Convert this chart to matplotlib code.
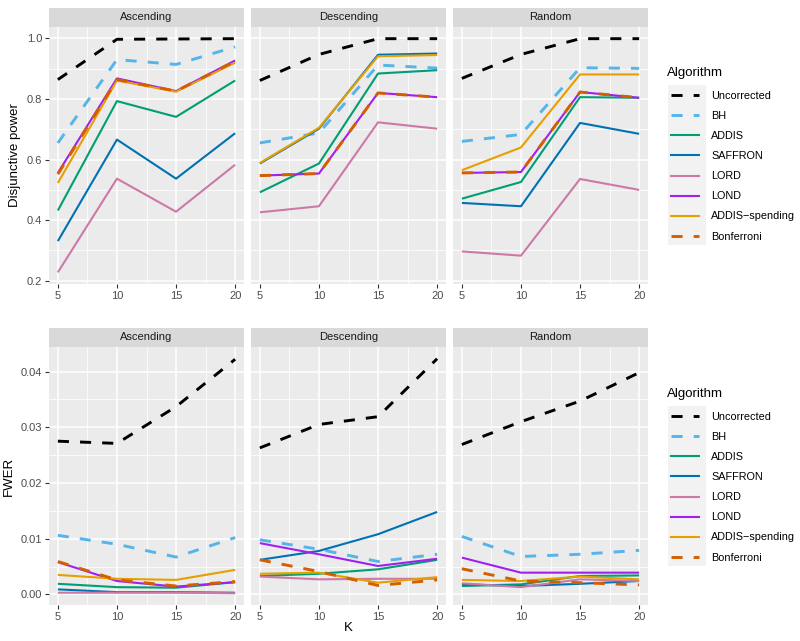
import matplotlib.pyplot as plt
from matplotlib.lines import Line2D
from matplotlib.patches import Rectangle
import numpy as np

plt.rcParams['font.family'] = ['Liberation Sans', 'DejaVu Sans']

# data
K = [5, 10, 15, 20]
orders = ['Ascending', 'Descending', 'Random']
algos = ['Uncorrected', 'BH', 'ADDIS', 'SAFFRON', 'LORD', 'LOND',
         'ADDIS\u2212spending', 'Bonferroni']
colors = ['black', '#56B4E9', '#009E73', '#0072B2', '#CC79A7', '#A020F0',
          '#E69F00', '#D55E00']
dashed = [True, True, False, False, False, False, False, True]

power_asc = [[0.864, 0.997, 0.998, 0.999],
             [0.655, 0.930, 0.914, 0.972],
             [0.432, 0.793, 0.741, 0.861],
             [0.331, 0.666, 0.537, 0.687],
             [0.228, 0.537, 0.428, 0.583],
             [0.556, 0.868, 0.826, 0.927],
             [0.523, 0.861, 0.824, 0.920],
             [0.552, 0.864, 0.826, 0.925]]
power_desc = [[0.861, 0.947, 0.999, 0.999],
              [0.655, 0.688, 0.912, 0.902],
              [0.492, 0.587, 0.884, 0.895],
              [0.587, 0.702, 0.946, 0.950],
              [0.426, 0.446, 0.723, 0.702],
              [0.547, 0.554, 0.820, 0.806],
              [0.589, 0.705, 0.941, 0.945],
              [0.547, 0.554, 0.820, 0.806]]
power_rand = [[0.868, 0.947, 0.999, 0.999],
              [0.660, 0.683, 0.903, 0.901],
              [0.471, 0.526, 0.806, 0.804],
              [0.457, 0.446, 0.721, 0.685],
              [0.297, 0.283, 0.536, 0.500],
              [0.556, 0.559, 0.823, 0.804],
              [0.565, 0.640, 0.881, 0.881],
              [0.556, 0.559, 0.823, 0.804]]

fwer_asc = [[0.0275, 0.0271, 0.0337, 0.0422],
            [0.0106, 0.0090, 0.0067, 0.0102],
            [0.0019, 0.0013, 0.0012, 0.0022],
            [0.0009, 0.0004, 0.0004, 0.0003],
            [0.0003, 0.0003, 0.0003, 0.0002],
            [0.0058, 0.0024, 0.0014, 0.0022],
            [0.0035, 0.0028, 0.0026, 0.0044],
            [0.0059, 0.0026, 0.0015, 0.0023]]
fwer_desc = [[0.0263, 0.0305, 0.0319, 0.0423],
             [0.0098, 0.0081, 0.0059, 0.0072],
             [0.0033, 0.0037, 0.0045, 0.0062],
             [0.0062, 0.0078, 0.0108, 0.0148],
             [0.0032, 0.0027, 0.0028, 0.0028],
             [0.0092, 0.0072, 0.0051, 0.0064],
             [0.0037, 0.0039, 0.0021, 0.0031],
             [0.0062, 0.0041, 0.0016, 0.0026]]
fwer_rand = [[0.0269, 0.0310, 0.0347, 0.0398],
             [0.0104, 0.0068, 0.0072, 0.0079],
             [0.0015, 0.0018, 0.0033, 0.0034],
             [0.0018, 0.0015, 0.0019, 0.0024],
             [0.0020, 0.0013, 0.0027, 0.0024],
             [0.0066, 0.0039, 0.0039, 0.0039],
             [0.0026, 0.0024, 0.0032, 0.0027],
             [0.0046, 0.0024, 0.0021, 0.0017]]

rows = [
    dict(data=[power_asc, power_desc, power_rand], ylabel='Disjunctive power',
         yticks=[0.2, 0.4, 0.6, 0.8, 1.0], fmt='{:.1f}', top=27, bottom=284),
    dict(data=[fwer_asc, fwer_desc, fwer_rand], ylabel='FWER',
         yticks=[0.0, 0.01, 0.02, 0.03, 0.04], fmt='{:.2f}', top=347, bottom=605),
]

W, H = 800, 641
fig = plt.figure(figsize=(8, 6.41), dpi=100)
lefts = [49, 251, 453]
pw = 195
strip_h = 19
grey30 = '#4D4D4D'

def style(ls):
    return (0, (3.8, 3.8)) if ls else '-'

for r, row in enumerate(rows):
    allv = np.array(row['data']).ravel()
    lo, hi = allv.min(), allv.max()
    pad = (hi - lo) * 0.05
    yt = row['yticks']
    ystep = yt[1] - yt[0]
    yminor = [t + ystep / 2 for t in [yt[0] - ystep] + yt]
    for c, panel in enumerate(row['data']):
        ax = fig.add_axes([lefts[c] / W, 1 - row['bottom'] / H, pw / W,
                           (row['bottom'] - row['top']) / H])
        ax.set_facecolor('#EBEBEB')
        for s in ax.spines.values():
            s.set_visible(False)
        for i, vals in enumerate(panel):
            d = dashed[i]
            ax.plot(K, vals, color=colors[i], lw=2.1 if d else 1.5,
                    linestyle=style(d), solid_capstyle='butt',
                    dash_capstyle='butt', zorder=3 + i)
        ax.set_xticks(K)
        ax.set_xticks([7.5, 12.5, 17.5], minor=True)
        ax.set_yticks(yt)
        ax.set_yticks(yminor, minor=True)
        ax.set_xlim(4.25, 20.75)
        ax.set_ylim(lo - pad, hi + pad)
        ax.grid(which='major', color='white', lw=1.1)
        ax.grid(which='minor', color='white', lw=0.55)
        ax.set_axisbelow(True)
        ax.tick_params(which='minor', length=0)
        ax.tick_params(which='major', length=3, width=0.8, color='#333333',
                       labelsize=8, labelcolor=grey30, pad=2)
        if c == 0:
            ax.set_yticklabels([row['fmt'].format(t) for t in yt])
            ax.set_ylabel(row['ylabel'], fontsize=9.5, color='black', labelpad=4)
        else:
            ax.tick_params(axis='y', length=0, labelleft=False)
        # facet strip
        sx = fig.add_axes([lefts[c] / W, 1 - row['top'] / H, pw / W, strip_h / H])
        sx.set_facecolor('#D9D9D9')
        sx.set_xticks([])
        sx.set_yticks([])
        for s in sx.spines.values():
            s.set_visible(False)
        sx.text(0.5, 0.5, orders[c], ha='center', va='center', fontsize=8,
                color='#1A1A1A', transform=sx.transAxes)

fig.text(348 / W, 1 - 628 / H, 'K', ha='center', va='center', fontsize=9.5)

# legends
handles = [Line2D([], [], color=colors[i], lw=2.1 if dashed[i] else 1.5,
                  linestyle=style(dashed[i]), dash_capstyle='butt')
           for i in range(len(algos))]
for title_y, key_top in [(73, 85), (394, 406)]:
    fig.patches.append(Rectangle((668 / W, 1 - (key_top + 160) / H), 38 / W,
                                 160 / H, transform=fig.transFigure,
                                 facecolor='#F2F2F2', edgecolor='none', zorder=0))
    fig.text(667 / W, 1 - title_y / H, 'Algorithm', ha='left', va='center',
             fontsize=9.5)
    leg = fig.legend(handles, algos, loc='upper left',
                     bbox_to_anchor=(671 / W, 1 - (key_top + 6) / H),
                     frameon=False, fontsize=7.8, handlelength=2.6,
                     handletextpad=1.1, labelspacing=0.93, borderpad=0,
                     borderaxespad=0)

fig.savefig('out.png', dpi=100)
